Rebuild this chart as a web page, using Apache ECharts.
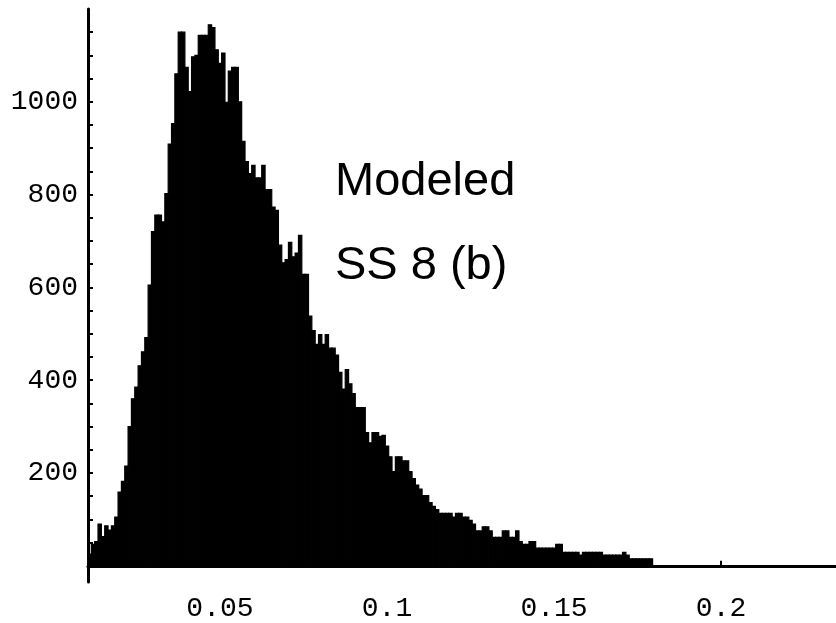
<!DOCTYPE html>
<html lang="en">
<head>
	<meta charset="UTF-8">
	<title>Modeled SS 8 (b)</title>
	<style>
		html, body { margin: 0; padding: 0; background: #fff; }
	</style>
</head>
<body>
	<div id="main" style="width: 836px;height: 623px"></div>
	<script src="https://cdn.jsdelivr.net/npm/echarts@6/dist/echarts.min.js"></script>
	<script>
		// histogram bins: left edge of first bin and bin width
		var binStart = 0.0105;
		var binWidth = 0.001;

		// counts per bin
		var counts = [
			25, 46, 52, 90, 63, 86, 77, 86, 105, 159,
			182, 215, 300, 360, 385, 431, 461, 492, 605, 720,
			756, 756, 741, 802, 909, 953, 1060, 1150, 1150, 1074,
			1022, 1097, 1100, 1143, 1143, 1143, 1166, 1160, 1112, 1083,
			1105, 999, 1066, 1074, 1074, 1000, 915, 871, 845, 863,
			836, 836, 863, 811, 811, 773, 766, 691, 653, 660,
			697, 666, 674, 712, 628, 628, 538, 507, 477, 498,
			477, 498, 469, 469, 454, 417, 381, 423, 392, 371,
			341, 341, 341, 287, 265, 287, 287, 279, 281, 258,
			235, 203, 235, 235, 226, 226, 203, 188, 174, 165,
			151, 151, 136, 128, 121, 113, 113, 113, 113, 105,
			113, 113, 105, 105, 98, 90, 75, 75, 84, 84,
			75, 61, 61, 61, 75, 75, 61, 61, 75, 52,
			46, 46, 52, 52, 38, 38, 38, 38, 38, 38,
			46, 46, 29, 29, 29, 29, 29, 23, 29, 29,
			29, 29, 29, 29, 23, 23, 23, 23, 23, 23,
			29, 23, 15, 15, 15, 15, 15, 15, 15
		];

		var xTicks = [0.05, 0.1, 0.15, 0.2];
		var yLabels = [200, 400, 600, 800, 1000];
		var yTicks = [50, 100, 150, 200, 250, 300, 350, 400, 450, 500, 550,
			600, 650, 700, 750, 800, 850, 900, 950, 1000, 1050, 1100, 1150];

		var bins = counts.map(function (c, i) {
			return [binStart + i * binWidth, binStart + (i + 1) * binWidth, c];
		});

		var myChart = echarts.init(document.getElementById('main'));

		var labelStyle = {
			fontFamily: 'Liberation Mono',
			fontWeight: 'normal',
			fontSize: 28,
			color: '#000'
		};

		var option = {
			animation: false,
			backgroundColor: '#fff',
			grid: {
				left: 88,
				right: 0,
				top: 9,
				bottom: 28
			},
			xAxis: {
				type: 'value',
				min: 0.0105,
				max: 0.2344,
				splitLine: { show: false },
				axisLine: {
					onZero: true,
					lineStyle: { color: '#000', width: 3 }
				},
				axisTick: {
					inside: true,
					length: 5,
					customValues: xTicks,
					lineStyle: { color: '#000', width: 2 }
				},
				axisLabel: Object.assign({
					customValues: xTicks,
					margin: 13,
					formatter: function (v) { return String(v); }
				}, labelStyle)
			},
			yAxis: {
				type: 'value',
				min: -35,
				max: 1200,
				splitLine: { show: false },
				axisLine: {
					show: true,
					onZero: false,
					lineStyle: { color: '#000', width: 3 }
				},
				axisTick: {
					inside: true,
					length: 5,
					customValues: yTicks,
					lineStyle: { color: '#000', width: 2 }
				},
				axisLabel: Object.assign({
					customValues: yLabels,
					margin: 10,
					formatter: function (v) { return String(v); }
				}, labelStyle)
			},
			graphic: [
				{
					type: 'text',
					left: 335,
					top: 159,
					style: {
						text: 'Modeled',
						font: '47px "Liberation Sans", Arial, sans-serif',
						fill: '#000'
					}
				},
				{
					type: 'text',
					left: 335,
					top: 243,
					style: {
						text: 'SS 8 (b)',
						font: '47px "Liberation Sans", Arial, sans-serif',
						fill: '#000'
					}
				}
			],
			series: [
				{
					type: 'custom',
					data: bins,
					encode: { x: [0, 1], y: 2 },
					renderItem: function (params, api) {
						var top = api.coord([api.value(0), api.value(2)]);
						var bottom = api.coord([api.value(1), 0]);
						return {
							type: 'rect',
							shape: {
								x: top[0],
								y: top[1],
								width: bottom[0] - top[0],
								height: bottom[1] - top[1]
							},
							style: { fill: '#000', stroke: '#000', lineWidth: 1.2 }
						};
					}
				}
			]
		};

		myChart.setOption(option);
	</script>
</body>
</html>
